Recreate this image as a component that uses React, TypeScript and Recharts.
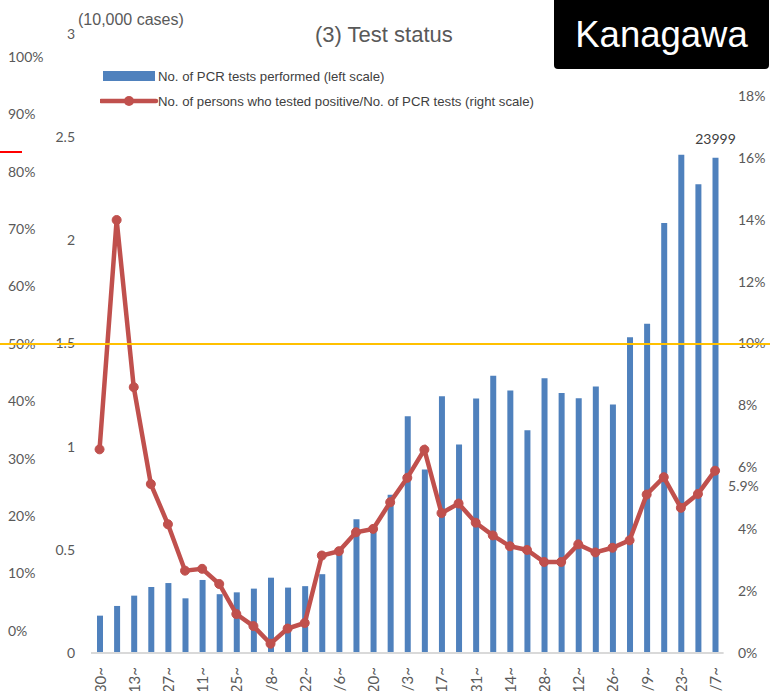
import React from 'react';
import { ComposedChart, Bar, Line, XAxis, YAxis, Legend, LabelList } from 'recharts';

const weeks = [
  '3/30~', '4/6~', '4/13~', '4/20~', '4/27~', '5/4~', '5/11~', '5/18~', '5/25~', '6/1~',
  '6/8~', '6/15~', '6/22~', '6/29~', '7/6~', '7/13~', '7/20~', '7/27~', '8/3~', '8/10~',
  '8/17~', '8/24~', '8/31~', '9/7~', '9/14~', '9/21~', '9/28~', '10/5~', '10/12~', '10/19~',
  '10/26~', '11/2~', '11/9~', '11/16~', '11/23~', '11/30~', '12/7~',
];

// No. of PCR tests performed (cases)
const pcrTests = [
  1810, 2280, 2780, 3200, 3390, 2650, 3540, 2850, 2940, 3120,
  3650, 3170, 3240, 3820, 4900, 6480, 6120, 7670, 11470, 8890,
  12440, 10110, 12330, 13440, 12720, 10800, 13320, 12600, 12350, 12910,
  12040, 15300, 15960, 20840, 24150, 22720, 23999,
];

// Positive rate (%)
const positiveRate = [
  6.58, 13.99, 8.59, 5.46, 4.16, 2.66, 2.72, 2.23, 1.26, 0.87,
  0.3, 0.79, 0.97, 3.15, 3.29, 3.9, 4.01, 4.87, 5.66, 6.57,
  4.52, 4.83, 4.21, 3.8, 3.45, 3.33, 2.94, 2.94, 3.51, 3.25,
  3.4, 3.64, 5.12, 5.68, 4.69, 5.14, 5.89,
];

const leftTicks = [0, 0.5, 1, 1.5, 2, 2.5, 3];
const rightTicks = [0, 2, 4, 6, 8, 10, 12, 14, 16, 18];
const overlayTicks = [0, 10, 20, 30, 40, 50, 60, 70, 80, 90, 100];

const title = '(3) Test status';
const unitLabel = '(10,000 cases)';
const prefecture = 'Kanagawa';
const legendBar = 'No. of PCR tests performed (left scale)';
const legendLine = 'No. of persons who tested positive/No. of PCR tests (right scale)';
const lastRateLabel = '5.9%';

const data = weeks.map((w, i) => ({
  week: w,
  tests: pcrTests[i] / 10000,
  raw: pcrTests[i],
  rate: positiveRate[i],
}));

const LAST = weeks.length - 1;
const TICK_FONT = 'Lato, "Open Sans", sans-serif';
const ARIAL = '"Liberation Sans", Arial, sans-serif';
const GRAY = '#595959';

const LeftTick = (p: any) => (
  <text x={75} y={p.y} dy="0.35em" textAnchor="end" fill={GRAY} fontFamily={TICK_FONT} fontSize={14}>
    {p.payload.value}
  </text>
);

const OverlayTick = (p: any) => (
  <text x={8} y={p.y} dy="0.35em" textAnchor="start" fill={GRAY} fontFamily={TICK_FONT} fontSize={14}>
    {p.payload.value + '%'}
  </text>
);

const RightTick = (p: any) => (
  <text x={738} y={p.y} dy="0.35em" textAnchor="start" fill={GRAY} fontFamily={TICK_FONT} fontSize={14}>
    {p.payload.value + '%'}
  </text>
);

const XTick = (p: any) => (
  <text
    x={p.x}
    y={p.y}
    dy="0.4em"
    textAnchor="end"
    transform={`rotate(-90, ${p.x}, ${p.y})`}
    fill={GRAY}
    fontFamily={TICK_FONT}
    fontSize={15}
  >
    {p.payload.value}
  </text>
);

const LegendContent = () => (
  <svg width={460} height={50} style={{ display: 'block' }}>
    <rect x={3} y={5} width={52} height={10} fill="#4f81bd" />
    <text x={58} y={10} dy="0.35em" fill="#404040" fontFamily={ARIAL} fontSize={13.2}>{legendBar}</text>
    <line x1={1} y1={35} x2={56} y2={35} stroke="#c0504d" strokeWidth={4.5} strokeLinecap="round" />
    <circle cx={29} cy={35} r={5} fill="#c0504d" />
    <text x={58} y={35} dy="0.35em" fill="#404040" fontFamily={ARIAL} fontSize={13.2}>{legendLine}</text>
  </svg>
);

export default function App() {
  return (
    <div style={{ position: 'absolute', left: 0, top: 0, width: 770, height: 691, overflow: 'hidden', background: '#fff' }}>
      <ComposedChart
        width={770}
        height={740}
        data={data}
        margin={{ top: 34, right: 0, bottom: 7, left: 0 }}
        barCategoryGap={0}
      >
        <XAxis
          dataKey="week"
          xAxisId="x"
          interval={1}
          height={80}
          tickSize={0}
          tickMargin={14}
          tick={<XTick />}
          axisLine={{ stroke: '#d9d9d9', strokeWidth: 2 }}
          tickLine={false}
        />
        <YAxis
          yAxisId="ov"
          orientation="left"
          width={50}
          domain={[-3.833, 104.007]}
          ticks={overlayTicks}
          allowDataOverflow
          axisLine={false}
          tickLine={false}
          tick={<OverlayTick />}
        />
        <YAxis
          yAxisId="l"
          orientation="left"
          width={41}
          domain={[0, 3]}
          ticks={leftTicks}
          axisLine={false}
          tickLine={false}
          tick={<LeftTick />}
        />
        <YAxis
          yAxisId="r"
          orientation="right"
          width={46.4}
          domain={[0, 20]}
          ticks={rightTicks}
          axisLine={false}
          tickLine={false}
          tick={<RightTick />}
        />
        <Legend
          verticalAlign="middle"
          align="center"
          layout="horizontal"
          wrapperStyle={{ position: 'absolute', top: 66, left: 100, width: 460, height: 50 }}
          content={<LegendContent />}
        />
        <Bar dataKey="tests" xAxisId="x" yAxisId="l" fill="#4f81bd" barSize={6} isAnimationActive={false}>
          <LabelList
            dataKey="raw"
            content={(p: any) =>
              p.index === LAST ? (
                <text x={p.x + p.width / 2} y={p.y - 19} dy="0.35em" textAnchor="middle" fill="#404040" fontFamily={TICK_FONT} fontSize={14}>
                  {p.value}
                </text>
              ) : null
            }
          />
        </Bar>
        <Line
          dataKey="rate"
          xAxisId="x"
          yAxisId="r"
          stroke="#c0504d"
          strokeWidth={4.5}
          dot={{ r: 4.5, fill: '#c0504d', stroke: '#c0504d', strokeWidth: 1 }}
          isAnimationActive={false}
        >
          <LabelList
            dataKey="rate"
            content={(p: any) =>
              p.index === LAST ? (
                <text x={p.x + 13} y={p.y + 15} dy="0.35em" textAnchor="start" fill={GRAY} fontFamily={TICK_FONT} fontSize={14}>
                  {lastRateLabel}
                </text>
              ) : null
            }
          />
        </Line>
      </ComposedChart>

      <div style={{ position: 'absolute', left: 78, top: 9, fontFamily: ARIAL, fontSize: 16, color: GRAY, lineHeight: '22px', whiteSpace: 'nowrap' }}>
        {unitLabel}
      </div>
      <div style={{ position: 'absolute', left: 315, top: 22, fontFamily: ARIAL, fontSize: 22, color: GRAY, lineHeight: '26px', whiteSpace: 'nowrap' }}>
        {title}
      </div>
      <div style={{ position: 'absolute', left: 0, top: 343, width: 770, height: 2, background: '#ffc000' }} />
      <div style={{ position: 'absolute', left: 0, top: 151, width: 22, height: 2, background: '#ff0000' }} />
      <div
        style={{
          position: 'absolute', left: 554, top: 0, width: 215, height: 69, background: '#000',
          borderRadius: '0 0 4px 4px', color: '#fff', fontFamily: ARIAL, fontSize: 36.5,
          display: 'flex', alignItems: 'center', justifyContent: 'center', lineHeight: '69px',
        }}
      >
        {prefecture}
      </div>
    </div>
  );
}
